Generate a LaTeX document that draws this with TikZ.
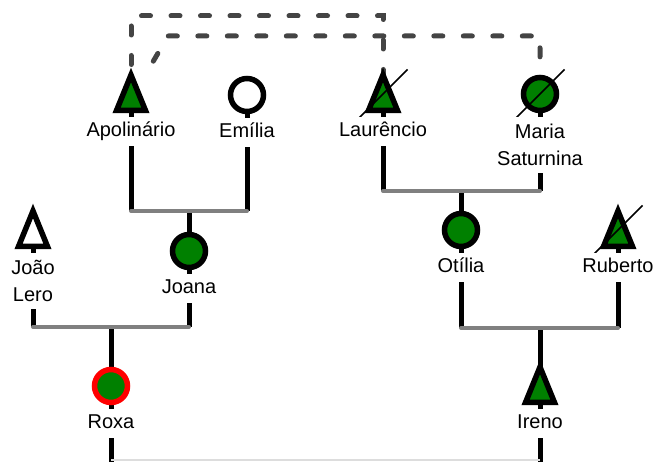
\documentclass[tikz,border=0pt]{standalone}
\usepackage{fontspec}
\setmainfont{Liberation Sans}
\usetikzlibrary{positioning,calc}
\definecolor{kin}{HTML}{008000}
\definecolor{tie}{HTML}{808080}
\definecolor{linkgray}{HTML}{444444}
\definecolor{faint}{HTML}{DDDDDD}

\begin{document}
\begin{tikzpicture}[x=1pt,y=-1pt,
        stem/.style={line width=5pt,black},
        bar/.style={line width=4pt,color=tie,line cap=round},
        link/.style={line width=5pt,color=linkgray,line cap=round,dash pattern=on 9pt off 20.5pt},
        tag/.style={fill=white,inner sep=0pt,font=\fontsize{20}{27}\selectfont},
        tag1/.style={tag,minimum height=29pt,text height=15pt,text depth=5pt},
        tag2/.style={tag,align=center,minimum height=56pt},
        pics/male/.style={code={\draw[line width=5.5pt,fill=#1,pic actions] (0,-19) -- (14.5,16.5) -- (-14.5,16.5) -- cycle;}},
        pics/male/.default=kin,
        pics/female/.style={code={\draw[line width=5.5pt,fill=#1,pic actions] (0,0) circle[radius=16.5];}},
        pics/female/.default=kin,
        pics/dead/.style={code={\draw[line width=1.5pt] (-24.5,24.5) -- (24.5,-24.5);}}]
        \useasboundingbox (0,0) rectangle (657,462);

        \coordinate (apol) at (131,94);
        \coordinate (emil) at (247,95);
        \coordinate (laur) at (383,94);
        \coordinate (mari) at (540,94);
        \coordinate (joao) at (33,230);
        \coordinate (joan) at (189,251);
        \coordinate (otil) at (461,230);
        \coordinate (rube) at (618,230);
        \coordinate (roxa) at (111,386);
        \coordinate (iren) at (540,386);

        \coordinate (u1) at (189,211);
        \coordinate (u2) at (461,191);
        \coordinate (u3) at (111,327);
        \coordinate (u4) at (540,328);
        \coordinate (u5) at (325,460);
        \coordinate (top1) at (257,16);
        \coordinate (top2) at (168,36);

        \draw[stem] (apol) -- (u1 -| apol);
        \draw[stem] (emil) -- (u1 -| emil);
        \draw[stem] (u1) -- (joan);
        \draw[stem] (laur) -- (u2 -| laur);
        \draw[stem] (mari) -- (u2 -| mari);
        \draw[stem] (u2) -- (otil);
        \draw[stem] (joao) -- (u3 -| joao);
        \draw[stem] (joan) -- (u3 -| joan);
        \draw[stem] (u3) -- (roxa);
        \draw[stem] (otil) -- (u4 -| otil);
        \draw[stem] (rube) -- (u4 -| rube);
        \draw[stem] (u4) -- (iren);
        \draw[stem,shorten >=-2pt] (roxa) -- (u5 -| roxa);
        \draw[stem,shorten >=-2pt] (iren) -- (u5 -| iren);

        \draw[bar] (u1 -| apol) -- (u1 -| emil);
        \draw[bar] (u2 -| laur) -- (u2 -| mari);
        \draw[bar] (u3 -| joao) -- (u3 -| joan);
        \draw[bar] (u4 -| otil) -- (u4 -| rube);
        \draw[line width=1.5pt,color=faint] (u5 -| roxa) -- (u5 -| iren);

        \draw[link] (apol) -- (apol |- top1) -| (laur);
        \draw[link,dash phase=17pt] ($(apol)+(16,-22)$) -- (top2) -| (mari);

        \pic at (apol) {male};
        \pic at (emil) {female=white};
        \pic at (laur) {male};
        \pic at (laur) {dead};
        \pic at (mari) {female};
        \pic at (mari) {dead};
        \pic at (joao) {male=white};
        \pic at (joan) {female};
        \pic at (otil) {female};
        \pic at (rube) {male};
        \pic at (rube) {dead};
        \pic[draw=red] at (roxa) {female};
        \pic at (iren) {male};

        \node[tag1,below=23pt of apol] (apol-t) {Apolinário};
        \node[tag1,below=23pt of emil] (emil-t) {Emília};
        \node[tag1,below=23pt of laur] (laur-t) {Laurêncio};
        \node[tag2,below=23pt of mari] (mari-t) {Maria\\Saturnina};
        \node[tag2,below=23pt of joao] (joao-t) {João\\Lero};
        \node[tag1,below=23pt of joan] (joan-t) {Joana};
        \node[tag1,below=23pt of otil] (otil-t) {Otília};
        \node[tag1,below=23pt of rube] (rube-t) {Ruberto};
        \node[tag1,below=23pt of roxa] (roxa-t) {Roxa};
        \node[tag1,below=23pt of iren] (iren-t) {Ireno};
\end{tikzpicture}
\end{document}
